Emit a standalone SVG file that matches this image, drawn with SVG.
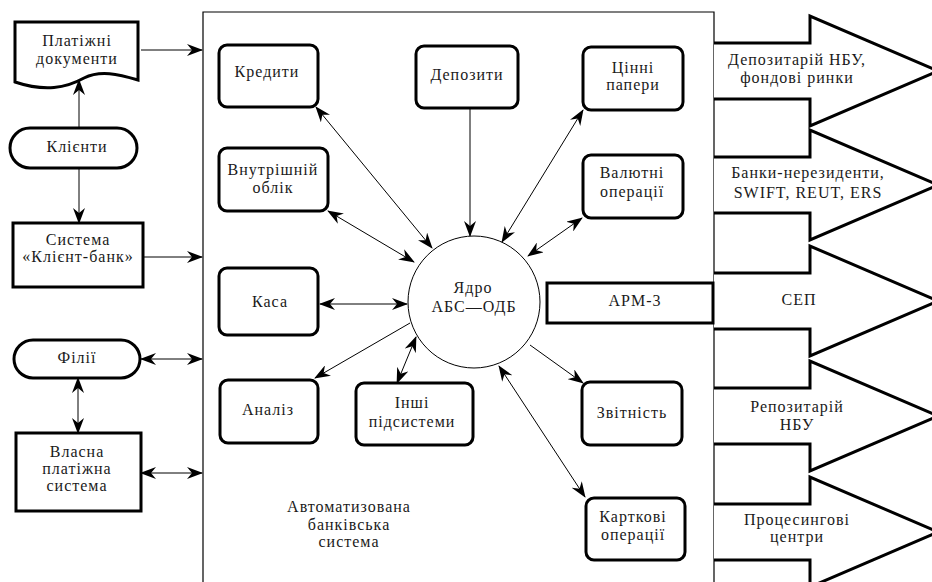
<svg xmlns="http://www.w3.org/2000/svg" width="932" height="582" viewBox="0 0 932 582">
<style>
text{font-family:"Liberation Serif","DejaVu Serif",serif;font-size:16px;letter-spacing:1px;fill:#1a1a1a;text-anchor:middle}
.box{fill:#fff;stroke:#000;stroke-width:3}
.big{fill:#fff;stroke:#000;stroke-width:3;stroke-linejoin:miter}
.ln{fill:none;stroke:#000;stroke-width:1}
.frame{fill:none;stroke:#000;stroke-width:1.2}
</style>
<defs>
<marker id="ah" viewBox="0 0 16 12" refX="15" refY="6" markerWidth="16" markerHeight="12" markerUnits="userSpaceOnUse" orient="auto-start-reverse">
<path d="M0,0 L16,6 L0,12 L5,6 z" fill="#000"/>
</marker>
</defs>
<rect width="932" height="582" fill="#fff"/>
<g id="frame"><path class="frame" d="M203,582 V12 H714 V582"/></g>
<g id="ext-arrows">
<path class="big" d="M714,43 H810 V16 L938,71 L810,126 V99 H714"/>
<path class="big" d="M714,157 H810 V130 L938,185 L810,240 V213 H714"/>
<path class="big" d="M714,273 H810 V246 L938,301 L810,356 V329 H714"/>
<path class="big" d="M714,388 H810 V361 L938,416 L810,471 V444 H714"/>
<path class="big" d="M714,504 H810 V477 L938,532 L810,587 V560 H714"/>
</g>
<g id="ext-labels">
<text x="797" y="65">Депозитарій НБУ,</text><text x="797" y="83">фондові ринки</text>
<text x="808" y="178">Банки-нерезиденти,</text><text x="808" y="198">SWIFT, REUT, ERS</text>
<text x="799" y="305">СЕП</text>
<text x="797" y="412">Репозитарій</text><text x="797" y="430">НБУ</text>
<text x="797" y="525">Процесингові</text><text x="797" y="542">центри</text>
</g>
<g id="connectors">
<line class="ln" x1="141" y1="50" x2="202" y2="50" marker-end="url(#ah)"/>
<line class="ln" x1="143" y1="257" x2="202" y2="257" marker-end="url(#ah)"/>
<line class="ln" x1="79" y1="128" x2="79" y2="80" marker-end="url(#ah)"/>
<line class="ln" x1="79" y1="168" x2="79" y2="223" marker-end="url(#ah)"/>
<line class="ln" x1="78" y1="378" x2="78" y2="433" marker-start="url(#ah)" marker-end="url(#ah)"/>
<line class="ln" x1="141" y1="359" x2="202" y2="359" marker-start="url(#ah)" marker-end="url(#ah)"/>
<line class="ln" x1="141" y1="473" x2="202" y2="473" marker-start="url(#ah)" marker-end="url(#ah)"/>
<line class="ln" x1="316" y1="107" x2="432" y2="248" marker-start="url(#ah)" marker-end="url(#ah)"/>
<line class="ln" x1="470" y1="108" x2="470" y2="236" marker-end="url(#ah)"/>
<line class="ln" x1="328" y1="211" x2="414" y2="262" marker-start="url(#ah)" marker-end="url(#ah)"/>
<line class="ln" x1="583" y1="110" x2="502" y2="242" marker-start="url(#ah)" marker-end="url(#ah)"/>
<line class="ln" x1="582" y1="218" x2="528" y2="256" marker-start="url(#ah)" marker-end="url(#ah)"/>
<line class="ln" x1="320" y1="304" x2="407" y2="304" marker-start="url(#ah)" marker-end="url(#ah)"/>
<line class="ln" x1="410" y1="323" x2="315" y2="378" marker-end="url(#ah)"/>
<line class="ln" x1="416" y1="337" x2="397" y2="383" marker-start="url(#ah)" marker-end="url(#ah)"/>
<line class="ln" x1="530" y1="345" x2="583" y2="383" marker-end="url(#ah)"/>
<line class="ln" x1="499" y1="366" x2="585" y2="497" marker-start="url(#ah)" marker-end="url(#ah)"/>
</g>
<g id="platizhni">
<path class="box" d="M15,22 H138 V80 C118,74 100,70 84,78 C66,88 45,92 15,82 Z"/>
<text x="77" y="46">Платіжні</text><text x="77" y="64">документи</text>
</g>
<g id="klienty">
<rect class="box" x="10" y="128" width="127" height="40" rx="20"/>
<text x="77" y="152">Клієнти</text>
</g>
<g id="klient-bank">
<rect class="box" x="13" y="223" width="130" height="64"/>
<text x="78" y="245">Система</text><text x="78" y="262">«Клієнт-банк»</text>
</g>
<g id="filii">
<rect class="box" x="14" y="340" width="126" height="38" rx="19"/>
<text x="77" y="363">Філії</text>
</g>
<g id="vlasna">
<rect class="box" x="16" y="433" width="125" height="78"/>
<text x="77" y="457">Власна</text><text x="77" y="474">платіжна</text><text x="77" y="491">система</text>
</g>
<g id="kredyty"><rect class="box" x="219" y="45" width="99" height="62" rx="8"/><text x="267" y="77">Кредити</text></g>
<g id="depozyty"><rect class="box" x="416" y="46" width="102" height="62" rx="8"/><text x="467" y="80">Депозити</text></g>
<g id="tsinni"><rect class="box" x="583" y="47" width="100" height="63" rx="8"/><text x="633" y="73">Цінні</text><text x="633" y="90">папери</text></g>
<g id="vnutr"><rect class="box" x="219" y="148" width="109" height="63" rx="8"/><text x="273" y="175">Внутрішній</text><text x="273" y="193">облік</text></g>
<g id="valiutni"><rect class="box" x="583" y="155" width="100" height="63" rx="8"/><text x="632" y="178">Валютні</text><text x="632" y="197">операції</text></g>
<g id="kasa"><rect class="box" x="219" y="268" width="99" height="67" rx="8"/><text x="270" y="307">Каса</text></g>
<g id="core"><circle cx="474" cy="302" r="66" fill="#fff" stroke="#000" stroke-width="1"/><text x="473" y="293">Ядро</text><text x="474" y="312">АБС—ОДБ</text></g>
<g id="arm3"><rect class="box" x="547" y="283" width="166" height="40"/><text x="635" y="306">АРМ-3</text></g>
<g id="analiz"><rect class="box" x="220" y="380" width="98" height="63" rx="8"/><text x="268" y="415">Аналіз</text></g>
<g id="inshi"><rect class="box" x="356" y="383" width="117" height="62" rx="8"/><text x="412" y="408">Інші</text><text x="412" y="427">підсистеми</text></g>
<g id="zvitnist"><rect class="box" x="582" y="382" width="100" height="63" rx="8"/><text x="632" y="418">Звітність</text></g>
<g id="kartkovi"><rect class="box" x="586" y="498" width="99" height="62" rx="8"/><text x="633" y="522">Карткові</text><text x="633" y="540">операції</text></g>
<g id="abs-label"><text x="349" y="512">Автоматизована</text><text x="349" y="530">банківська</text><text x="349" y="547">система</text></g>
</svg>
